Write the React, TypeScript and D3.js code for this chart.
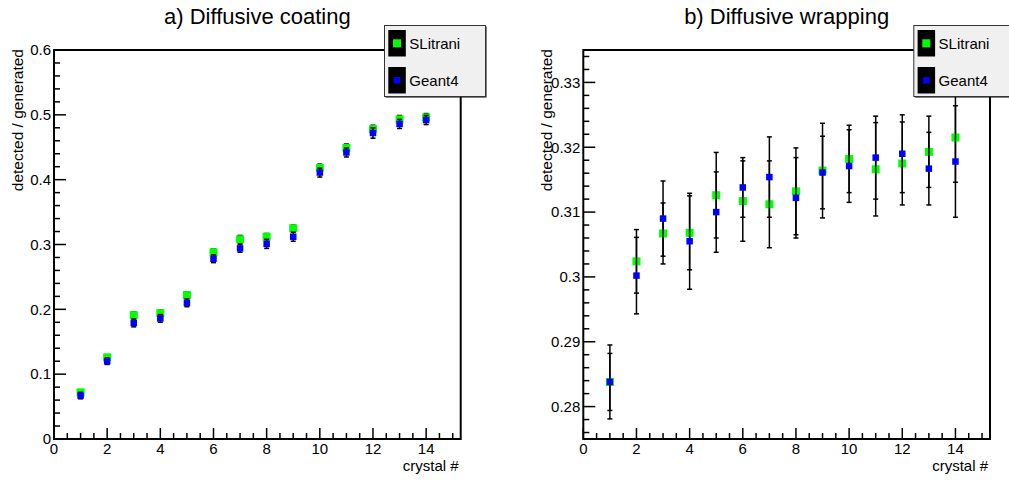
import React from "react";
import * as d3 from "d3";

const crystals = [1, 2, 3, 4, 5, 6, 7, 8, 9, 10, 11, 12, 13, 14];

const coatSL = [0.072, 0.126, 0.191, 0.194, 0.222, 0.288, 0.308, 0.312, 0.325, 0.418, 0.449, 0.478, 0.493, 0.496];
const coatSLErr = [0.004, 0.004, 0.005, 0.005, 0.005, 0.005, 0.006, 0.005, 0.005, 0.006, 0.006, 0.006, 0.006, 0.006];
const coatG4 = [0.067, 0.12, 0.179, 0.186, 0.21, 0.278, 0.294, 0.301, 0.312, 0.411, 0.442, 0.472, 0.486, 0.492];
const coatG4Err = [0.005, 0.005, 0.006, 0.006, 0.006, 0.006, 0.006, 0.007, 0.007, 0.007, 0.007, 0.008, 0.007, 0.007];

const wrapSL = [0.2838, 0.3024, 0.3067, 0.3068, 0.3126, 0.3117, 0.3112, 0.3132, 0.3164, 0.3182, 0.3166, 0.3175, 0.3193, 0.3215];
const wrapSLErr = [0.0044, 0.0049, 0.0047, 0.0057, 0.0066, 0.0062, 0.0067, 0.0067, 0.0073, 0.0052, 0.0072, 0.0064, 0.0055, 0.0069];
const wrapG4 = [0.2838, 0.3002, 0.309, 0.3055, 0.31, 0.3138, 0.3154, 0.3122, 0.3161, 0.3171, 0.3184, 0.319, 0.3167, 0.3178];
const wrapG4Err = [0.0057, 0.0059, 0.0058, 0.0074, 0.0062, 0.0046, 0.0062, 0.0062, 0.0056, 0.0056, 0.0064, 0.006, 0.0056, 0.0086];

const xTicks = [0, 2, 4, 6, 8, 10, 12, 14];
const coatYTicks = [0, 0.1, 0.2, 0.3, 0.4, 0.5, 0.6];
const coatYLabels = ["0", "0.1", "0.2", "0.3", "0.4", "0.5", "0.6"];
const wrapYTicks = [0.28, 0.29, 0.3, 0.31, 0.32, 0.33];
const wrapYLabels = ["0.28", "0.29", "0.3", "0.31", "0.32", "0.33"];

const seriesNames = ["SLitrani", "Geant4"];
const seriesColors = ["#00ff00", "#0000ff"];

const FONT = "'Liberation Sans', Arial, Helvetica, sans-serif";

type PanelProps = {
  x0: number;
  x1: number;
  title: string;
  yDomain: [number, number];
  yTicks: number[];
  yLabels: string[];
  yMinorStep: number;
  series: { v: number[]; e: number[] }[];
};

function Panel(p: PanelProps) {
  const y0 = 50, y1 = 439;
  const x = d3.scaleLinear().domain([0, 15.3]).range([p.x0, p.x1]);
  const y = d3.scaleLinear().domain(p.yDomain).range([y1, y0]);
  const xMinor = d3.range(0, 15.3 + 1e-9, 0.5).filter((v) => Math.abs(v / 2 - Math.round(v / 2)) > 1e-6);
  const yMinor = d3
    .range(Math.ceil(p.yDomain[0] / p.yMinorStep - 1e-6), Math.floor(p.yDomain[1] / p.yMinorStep + 1e-6) + 1)
    .map((k) => k * p.yMinorStep)
    .filter((v) => !p.yTicks.some((t) => Math.abs(t - v) < 1e-9));
  const markerSizes = [8, 6.5];
  const lx = p.x0 + 330;
  return (
    <g>
      <text x={(p.x0 + p.x1) / 2} y={24} textAnchor="middle" fontSize={22} fontFamily={FONT} fill="#000">
        {p.title}
      </text>
      {/* ticks */}
      {xTicks.map((t) => (
        <line key={"xt" + t} x1={x(t)} x2={x(t)} y1={y1} y2={y1 - 11} stroke="#000" strokeWidth={1.5} />
      ))}
      {xMinor.map((t) => (
        <line key={"xm" + t} x1={x(t)} x2={x(t)} y1={y1} y2={y1 - 6} stroke="#000" strokeWidth={1.5} />
      ))}
      {p.yTicks.map((t) => (
        <line key={"yt" + t} x1={p.x0} x2={p.x0 + 12} y1={y(t)} y2={y(t)} stroke="#000" strokeWidth={1.5} />
      ))}
      {yMinor.map((t) => (
        <line key={"ym" + t} x1={p.x0} x2={p.x0 + 6} y1={y(t)} y2={y(t)} stroke="#000" strokeWidth={1.5} />
      ))}
      {xTicks.map((t) => (
        <text key={"xl" + t} x={x(t)} y={454} textAnchor="middle" fontSize={15} fontFamily={FONT} fill="#000">
          {String(t)}
        </text>
      ))}
      {p.yTicks.map((t, i) => (
        <text key={"yl" + t} x={p.x0 - 3} y={y(t)} dy="0.35em" textAnchor="end" fontSize={15} fontFamily={FONT} fill="#000">
          {p.yLabels[i]}
        </text>
      ))}
      <text x={p.x1 - 2} y={471} textAnchor="end" fontSize={15} fontFamily={FONT} fill="#000">
        crystal #
      </text>
      <text
        transform={`translate(${p.x0 - 31},${y0 - 1}) rotate(-90)`}
        textAnchor="end"
        fontSize={15.5}
        fontFamily={FONT}
        fill="#000"
      >
        detected / generated
      </text>
      {/* frame */}
      <rect x={p.x0} y={y0} width={p.x1 - p.x0} height={y1 - y0} fill="none" stroke="#000" strokeWidth={2} />
      {/* data */}
      {p.series.map((s, si) => (
        <g key={"s" + si}>
          {crystals.map((c, i) => {
            const cx = x(c);
            const ya = y(s.v[i] + s.e[i]);
            const yb = y(s.v[i] - s.e[i]);
            return (
              <g key={"e" + i} stroke="#000" strokeWidth={1.5}>
                <line x1={cx} x2={cx} y1={ya} y2={yb} />
                <line x1={cx - 2.5} x2={cx + 2.5} y1={ya} y2={ya} />
                <line x1={cx - 2.5} x2={cx + 2.5} y1={yb} y2={yb} />
              </g>
            );
          })}
          {crystals.map((c, i) => (
            <rect
              key={"m" + i}
              x={x(c) - markerSizes[si] / 2}
              y={y(s.v[i]) - markerSizes[si] / 2}
              width={markerSizes[si]}
              height={markerSizes[si]}
              fill={seriesColors[si]}
            />
          ))}
        </g>
      ))}
      {/* legend */}
      <g>
        <rect x={lx + 1.5} y={26.5} width={101} height={71} fill="#000" />
        <rect x={lx + 0.5} y={25.5} width={101} height={71} fill="#f0f0f0" stroke="#333" strokeWidth={1} />
        {seriesNames.map((n, i) => {
          const cy = 43.3 + i * 37;
          return (
            <g key={"lg" + i}>
              <rect x={lx + 4.3} y={cy - 13.3} width={17.5} height={26.5} fill="#000" />
              <rect
                x={lx + 13 - markerSizes[i] / 2}
                y={cy - markerSizes[i] / 2}
                width={markerSizes[i]}
                height={markerSizes[i]}
                fill={seriesColors[i]}
              />
              <text x={lx + 25.3} y={cy + 5.3} fontSize={15} fontFamily={FONT} fill="#000">
                {n}
              </text>
            </g>
          );
        })}
      </g>
    </g>
  );
}

export default function App() {
  return (
    <svg
      width={1009}
      height={480}
      style={{ position: "absolute", left: 0, top: 0, display: "block", background: "#fff" }}
    >
      <rect x={0} y={0} width={1009} height={480} fill="#fff" />
      <Panel
        x0={54}
        x1={460.7}
        title="a) Diffusive coating"
        yDomain={[0, 0.6]}
        yTicks={coatYTicks}
        yLabels={coatYLabels}
        yMinorStep={0.02}
        series={[
          { v: coatSL, e: coatSLErr },
          { v: coatG4, e: coatG4Err },
        ]}
      />
      <Panel
        x0={583.3}
        x1={990}
        title="b) Diffusive wrapping"
        yDomain={[0.275, 0.335]}
        yTicks={wrapYTicks}
        yLabels={wrapYLabels}
        yMinorStep={0.002}
        series={[
          { v: wrapSL, e: wrapSLErr },
          { v: wrapG4, e: wrapG4Err },
        ]}
      />
    </svg>
  );
}
